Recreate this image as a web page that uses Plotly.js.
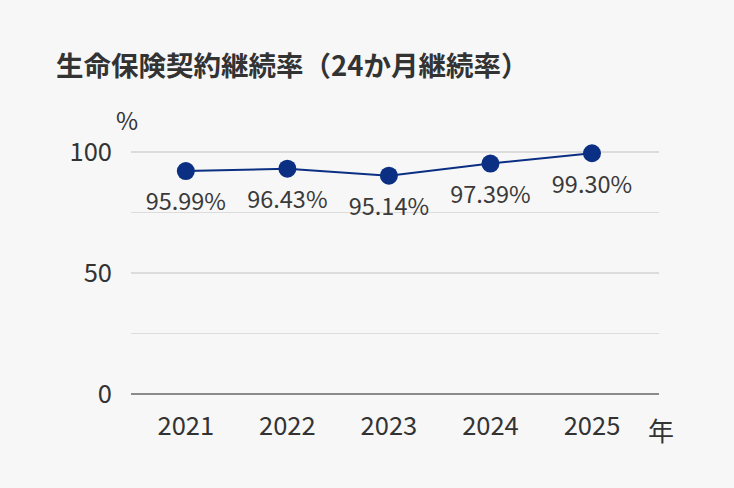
<!DOCTYPE html>
<html>
<head>
<meta charset="utf-8">
<script src="https://cdn.plot.ly/plotly-3.0.1.min.js"></script>
<style>html,body{margin:0;padding:0;background:#f7f7f7;}#chart{width:734px;height:488px;}</style>
</head>
<body>
<div id="chart"></div>
<script>
const years = ['2021', '2022', '2023', '2024', '2025'];
const retentionRates = [95.99, 96.43, 95.14, 97.39, 99.30];
const yTickVals = [0, 25, 50, 75, 100];
const yTickText = ['0', '', '50', '', '100'];

const FONT = '"Noto Sans CJK JP", "Noto Sans", sans-serif';
const NAVY = '#0b2f83';

// carrier trace so the 0-100 axis (grid + ticks) is drawn; draws nothing itself
const axisTrace = {
  x: years,
  y: retentionRates,
  yaxis: 'y',
  type: 'scatter',
  mode: 'none',
  hoverinfo: 'skip',
  showlegend: false
};

const lineTrace = {
  x: years,
  y: retentionRates,
  yaxis: 'y2',
  type: 'scatter',
  mode: 'lines+markers',
  line: {color: NAVY, width: 2},
  marker: {color: NAVY, size: 18},
  cliponaxis: false,
  hoverinfo: 'skip'
};

// value labels under the markers (transparent larger marker sets the gap)
const labelTrace = {
  x: years,
  y: retentionRates,
  yaxis: 'y2',
  type: 'scatter',
  mode: 'markers+text',
  marker: {color: 'rgba(0,0,0,0)', size: 33},
  texttemplate: '%{y:.2f}%',
  textposition: 'bottom center',
  textfont: {family: FONT, size: 23.5, color: '#3a3a3a'},
  cliponaxis: false,
  hoverinfo: 'skip'
};

const layout = {
  width: 734,
  height: 488,
  paper_bgcolor: '#f7f7f7',
  plot_bgcolor: '#f7f7f7',
  margin: {l: 131, r: 75, t: 150, b: 94},
  showlegend: false,
  font: {family: FONT, color: '#333333'},
  title: {
    text: '<b>生命保険契約継続率（24か月継続率）</b>',
    font: {family: FONT, size: 27.5, color: '#333333'},
    x: 56 / 734,
    xref: 'container',
    xanchor: 'left',
    y: 1 - 66 / 488,
    yref: 'container',
    yanchor: 'middle'
  },
  xaxis: {
    type: 'category',
    range: [-0.54, 4.66],
    showgrid: false,
    showline: false,
    zeroline: false,
    ticks: '',
    ticklabelstandoff: 14,
    tickfont: {family: FONT, size: 25.5, color: '#333333'},
    fixedrange: true
  },
  yaxis: {
    range: [0, 100.83],
    tickvals: yTickVals,
    ticktext: yTickText,
    showgrid: true,
    gridcolor: '#dcdcdc',
    gridwidth: 1.5,
    zeroline: true,
    zerolinecolor: '#8a8a8a',
    zerolinewidth: 2,
    showline: false,
    ticks: '',
    ticklabelstandoff: 18,
    tickfont: {family: FONT, size: 25.5, color: '#333333'},
    fixedrange: true
  },
  yaxis2: {
    overlaying: 'y',
    range: [54.7, 99.9],
    visible: false,
    fixedrange: true
  },
  annotations: [
    {text: '%', xref: 'paper', yref: 'paper', x: (127 - 131) / 528, y: (394 - 119) / 244,
     xanchor: 'center', yanchor: 'middle', showarrow: false,
     font: {family: FONT, size: 24, color: '#333333'}},
    {text: '年', xref: 'paper', yref: 'paper', x: (661 - 131) / 528, y: (394 - 429) / 244,
     xanchor: 'center', yanchor: 'middle', showarrow: false,
     font: {family: FONT, size: 26, color: '#333333'}}
  ]
};

Plotly.newPlot('chart', [axisTrace, lineTrace, labelTrace], layout, {displayModeBar: false, staticPlot: true});
</script>
</body>
</html>
